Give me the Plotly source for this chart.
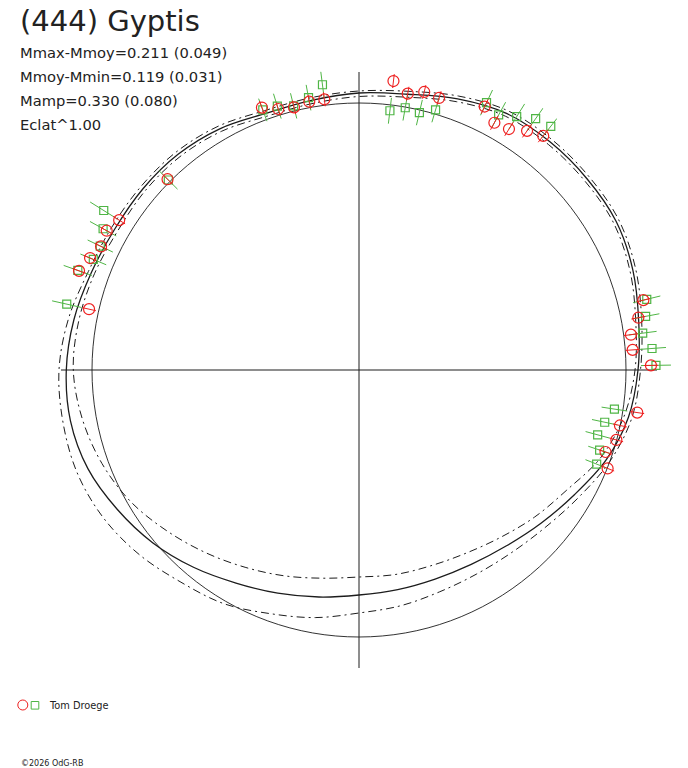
import plotly.graph_objects as go

W, H = 688, 768

# rotation phase of each observation, as polar angle (deg, counter-clockwise from east)
obs_angle = [110.3, 107.2, 103.9, 100.5, 97.3, 83.2, 80.0, 76.8, 73.6, 64.5,
             61.3, 58.1, 54.9, 51.8, 135.1, 148.0, 151.1, 154.4, 157.4, 160.5,
             167.3, 13.8, 10.6, 7.4, 4.2, 0.9, 351.3, 348.0, 344.8, 341.6, 338.4]

# two data sets (red circles / green squares), radius = brightness, with errors
red_r = [279.8, 273.2, 270.6, 272.9, 272.9, 291.0, 280.6, 285.6, 283.6, 291.9,
         281.9, 283.8, 292.3, 297.9, 270.3, 282.8, 288.2, 286.0, 291.3, 297.0,
         276.7, 292.8, 284.2, 274.2, 274.4, 292.0, 281.5, 266.8, 266.7, 259.8, 267.4]
red_err = [7, 7, 7, 7, 7, 7, 7, 7, 7, 8, 8, 8, 8, 8, 7, 7, 7, 7, 7, 7,
           7, 7, 7, 7, 7, 7, 7, 7, 7, 7, 7]
green_r = [277.3, 276.2, 272.1, 277.0, 287.6, 261.1, 266.3, 264.4, 271.2, 296.2,
           290.8, 298.4, 307.2, 310.1, 269.2, 301.0, 292.3, 286.9, 287.8, 298.3,
           299.6, 296.3, 291.6, 286.1, 293.8, 297.0, 258.4, 251.2, 247.3, 253.6, 255.6]
green_err = [12, 13, 13, 13, 13, 13, 13, 13, 13, 14, 14.5, 15, 15, 15, 13, 16, 15, 14, 14, 15,
             15, 14, 14, 14, 14, 15, 13, 13, 12.5, 12, 12]

# fitted lightcurve and its two dash-dot bounds, every 10 deg
fit_angle = list(range(0, 360, 10))
fit_mid = [279, 284, 291.5, 297, 297.6, 297.5, 296, 288.5, 280, 277, 273.8, 273,
           278.5, 281.5, 282, 282, 284.8, 289.5, 292.7, 293, 288.5, 279, 269, 257.5,
           246, 237.5, 230.5, 225, 223, 222.5, 224.5, 229.5, 238, 249, 263, 273.5]
fit_lo = [276, 281, 288.5, 294, 294.5, 294.5, 293, 285.5, 277, 273.5, 270.5, 270,
          275.5, 278.5, 279, 278.5, 281.5, 284.5, 285.7, 281, 273.5, 263.5, 250.5, 238.5,
          227.8, 219, 211.4, 207, 207.7, 208.5, 212, 219, 229, 240, 257, 269]
fit_hi = [281.5, 287, 294.5, 300, 300.5, 300.5, 299, 291.5, 283, 279, 276.5, 276,
          281.5, 284.5, 285, 285.5, 288, 295, 300, 300.6, 300, 295.3, 287, 277,
          269.9, 259.3, 251.4, 243, 239.4, 236, 235.5, 238, 244, 254, 267, 277]

mean_r = 267      # mean brightness circle
axis_r = 298      # half length of the cross
r_max = 320

title = "(444) Gyptis"
info = ["Mmax-Mmoy=0.211 (0.049)", "Mmoy-Mmin=0.119 (0.031)",
        "Mamp=0.330 (0.080)", "Eclat^1.00"]
observer = "Tom Droege"
credit = "\u00a92026 OdG-RB"

RED = "#ee2020"
GREEN = "#4fb545"
INK = "#1c1c1c"


def closed(r, th):
    return list(r) + [r[0]], list(th) + [th[0] + 360]


def bars(r, err, th):
    rr, tt = [], []
    for ri, ei, ti in zip(r, err, th):
        rr += [ri - ei, ri + ei, None]
        tt += [ti, ti, None]
    return rr, tt


fig = go.Figure()

# cross
fig.add_trace(go.Scatterpolar(
    r=[axis_r, 0, axis_r, None, axis_r, 0, axis_r],
    theta=[0, 0, 180, None, 90, 90, 270],
    mode="lines", line=dict(color=INK, width=1)))

# mean circle
circ_th = list(range(0, 361, 5))
fig.add_trace(go.Scatterpolar(r=[mean_r] * len(circ_th), theta=circ_th, mode="lines",
                              line=dict(color=INK, width=0.9, shape="spline")))

for rr, dash, w in [(fit_lo, "8px,4px,2px,4px", 1), (fit_hi, "8px,4px,2px,4px", 1),
                    (fit_mid, "solid", 1.3)]:
    r_c, t_c = closed(rr, fit_angle)
    fig.add_trace(go.Scatterpolar(r=r_c, theta=t_c, mode="lines",
                                  line=dict(color=INK, width=w, dash=dash, shape="spline")))

gb_r, gb_t = bars(green_r, green_err, obs_angle)
fig.add_trace(go.Scatterpolar(r=gb_r, theta=gb_t, mode="lines",
                              line=dict(color=GREEN, width=1)))
fig.add_trace(go.Scatterpolar(r=green_r, theta=obs_angle, mode="markers",
                              marker=dict(symbol="square-open", size=8, color=GREEN,
                                          line=dict(width=1.2, color=GREEN))))
rb_r, rb_t = bars(red_r, red_err, obs_angle)
fig.add_trace(go.Scatterpolar(r=rb_r, theta=rb_t, mode="lines",
                              line=dict(color=RED, width=1)))
fig.add_trace(go.Scatterpolar(r=red_r, theta=obs_angle, mode="markers",
                              marker=dict(symbol="circle-open", size=11, color=RED,
                                          line=dict(width=1.2, color=RED))))


def px(x):
    return x / W


def py(y):
    return 1 - y / H


cx, cy = 359, 370
fig.update_layout(
    width=W, height=H, margin=dict(l=0, r=0, t=0, b=0),
    paper_bgcolor="white", showlegend=False, hovermode=False,
    font=dict(family="DejaVu Sans", color="#222222"),
    polar=dict(
        domain=dict(x=[px(cx - r_max), px(cx + r_max)], y=[py(cy + r_max), py(cy - r_max)]),
        bgcolor="white",
        radialaxis=dict(visible=False, range=[0, r_max], showgrid=False),
        angularaxis=dict(visible=False, rotation=0, direction="counterclockwise",
                         showgrid=False),
    ),
)

ann = [dict(text=title, x=px(18), y=py(20.5), size=29)]
for i, t in enumerate(info):
    ann.append(dict(text=t, x=px(18), y=py(52.2 + 24 * i), size=14.7))
ann.append(dict(text=observer, x=px(47), y=py(705.3), size=9.8))
ann.append(dict(text=credit, x=px(19), y=py(763), size=8))
for a in ann:
    fig.add_annotation(text=a["text"], x=a["x"], y=a["y"], xref="paper", yref="paper",
                       xanchor="left", yanchor="middle", showarrow=False,
                       font=dict(size=a["size"], family="DejaVu Sans", color="#222222"))

# legend keys
fig.add_shape(type="circle", xref="paper", yref="paper", x0=px(17.8), x1=px(27.8),
              y0=py(710), y1=py(700), line=dict(color=RED, width=1))
fig.add_shape(type="rect", xref="paper", yref="paper", x0=px(31.2), x1=px(38.8),
              y0=py(709.1), y1=py(701.5), line=dict(color=GREEN, width=1))

# the page body has a default 8px margin; drop it so the figure fills the window
fig.write_html("out.html", config={"displayModeBar": False},
               post_script="document.body.style.margin='0px';")
